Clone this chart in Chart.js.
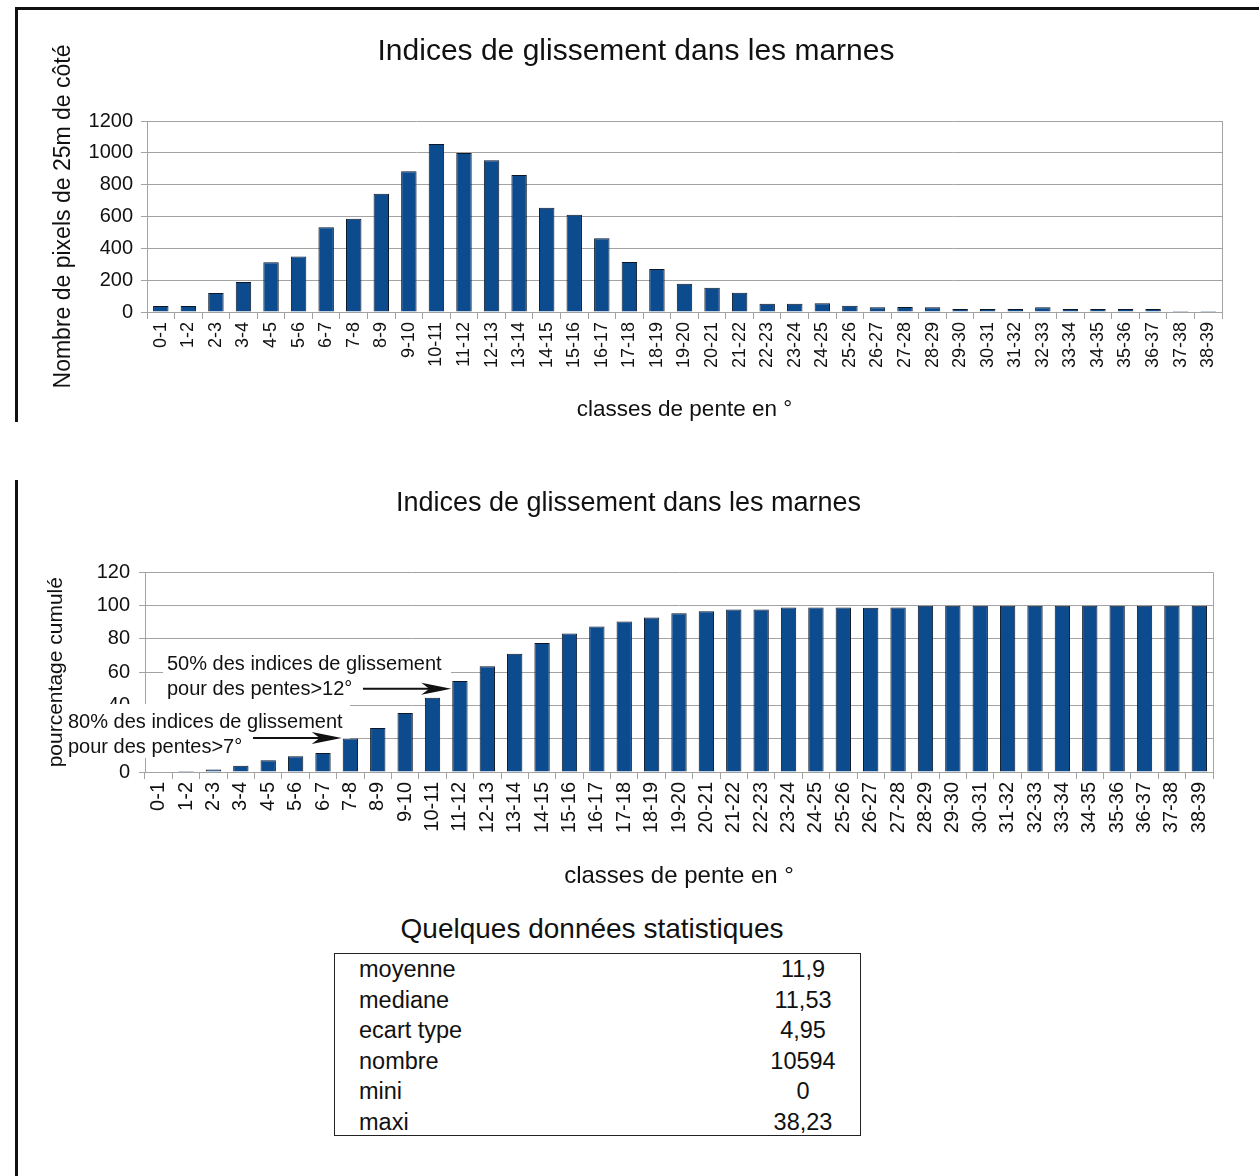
<!DOCTYPE html>
<html>
<head>
<meta charset="utf-8">
<script src="https://cdn.jsdelivr.net/npm/chart.js@4.4.0/dist/chart.umd.min.js"></script>
<style>
  body { margin: 0; background: #fff; font-family: "Liberation Sans", Arial, sans-serif; color: #111; }
  #page { position: relative; width: 1259px; height: 1176px; overflow: hidden; background: #fff; }
  .rule { position: absolute; background: #111; }
  canvas { position: absolute; left: 0; }
  #stTitle { position: absolute; left: 0; width: 1184px; top: 912px; text-align: center; font-size: 28px; line-height: 34px; }
  #stBox { position: absolute; left: 334px; top: 953px; width: 525px; height: 181px; border: 1px solid #222; }
  .row { position: relative; height: 30.6px; line-height: 30.6px; font-size: 23.5px; }
  .row .lab { position: absolute; left: 24px; }
  .row .val { position: absolute; left: 418px; width: 100px; text-align: center; }
</style>
</head>
<body>
<div id="page">
  <div class="rule" style="left:15px;top:7px;width:1244px;height:3px"></div>
  <div class="rule" style="left:15px;top:7px;width:3px;height:415px"></div>
  <div class="rule" style="left:15px;top:480px;width:3px;height:696px"></div>

  <div style="position:absolute;left:0;top:0;width:1259px;height:440px"><canvas id="countChart"></canvas></div>
  <div style="position:absolute;left:0;top:440px;width:1259px;height:460px"><canvas id="cumulChart"></canvas></div>

  <div id="stTitle">Quelques données statistiques</div>
  <div id="stBox"></div>
</div>

<script>
// slope classes (degrees)
const classes = ["0-1","1-2","2-3","3-4","4-5","5-6","6-7","7-8","8-9","9-10",
  "10-11","11-12","12-13","13-14","14-15","15-16","16-17","17-18","18-19","19-20",
  "20-21","21-22","22-23","23-24","24-25","25-26","26-27","27-28","28-29","29-30",
  "30-31","31-32","32-33","33-34","34-35","35-36","36-37","37-38","38-39"];

// number of 25m pixels per class
const pixelCounts = [38, 38, 119, 188, 312, 348, 532, 586, 743, 884,
  1055, 999, 953, 861, 655, 611, 463, 314, 270, 178,
  153, 121, 52, 52, 55, 40, 30, 32, 30, 19,
  19, 19, 30, 19, 19, 19, 19, 6, 6];

// cumulated percentage (lower chart)
const cumulPct = [0.3, 0.6, 1.5, 3.8, 7.0, 9.4, 11.4, 20.1, 26.4, 35.4,
  44.7, 54.7, 63.6, 71.1, 77.5, 83.3, 87.5, 90.5, 92.9, 95.5,
  96.7, 97.7, 97.7, 98.9, 98.9, 98.9, 98.8, 98.9, 99.9, 100,
  100, 100, 100, 100, 100, 100, 100, 100, 100];

const countTicks = [0, 200, 400, 600, 800, 1000, 1200];
const pctTicks = [0, 20, 40, 60, 80, 100, 120];

const statLabels = ["moyenne", "mediane", "ecart type", "nombre", "mini", "maxi"];
const statValues = ["11,9", "11,53", "4,95", "10594", "0", "38,23"];

const title = "Indices de glissement dans les marnes";
const xTitle = "classes de pente en °";

const FONT = "'Liberation Sans', Arial, sans-serif";
const GRID = "#a3a3a3";
const BAR = "#0d4b8f";
const BAR_EDGE = "#0b1626";

Chart.defaults.color = "#111";
Chart.defaults.font.family = FONT;
Chart.defaults.animation = false;

// right-hand frame of the plot area
const frame = {
  id: "frame",
  afterDraw(chart) {
    const a = chart.chartArea, ctx = chart.ctx;
    ctx.save();
    ctx.strokeStyle = GRID;
    ctx.lineWidth = 1;
    ctx.beginPath();
    ctx.moveTo(Math.round(a.right) + 0.5, a.top);
    ctx.lineTo(Math.round(a.right) + 0.5, a.bottom);
    ctx.stroke();
    ctx.restore();
  }
};

function barChart(id, data, ticks, o) {
  return new Chart(document.getElementById(id), {
    type: "bar",
    data: {
      labels: classes,
      datasets: [{
        data: data,
        backgroundColor: BAR,
        borderColor: BAR_EDGE,
        borderWidth: 1,
        barPercentage: 0.56,
        categoryPercentage: 1
      }]
    },
    options: {
      responsive: true,
      maintainAspectRatio: false,
      layout: { padding: o.padding },
      plugins: {
        legend: { display: false },
        tooltip: { enabled: false },
        title: {
          display: true, text: title, color: "#111",
          font: { size: o.titleSize, weight: "normal" },
          padding: o.titlePad
        }
      },
      scales: {
        x: {
          grid: { display: true, drawOnChartArea: false, tickLength: 7, color: GRID, offset: true },
          border: { color: GRID },
          ticks: { maxRotation: 90, minRotation: 90, autoSkip: false, padding: 3,
                   font: { size: o.xTickSize }, color: "#111" },
          title: { display: true, text: xTitle, font: { size: o.xTitleSize }, padding: { top: 0, bottom: 0 }, color: "#111" },
          afterFit(s) { s.height = o.xHeight; }
        },
        y: {
          min: ticks[0], max: ticks[ticks.length - 1],
          afterBuildTicks(s) { s.ticks = ticks.map(v => ({ value: v })); },
          grid: { color: GRID, tickLength: 6 },
          border: { color: GRID },
          ticks: { padding: o.yPad, font: { size: o.yTickSize }, color: "#111",
                   callback: v => String(v) },
          title: { display: true, text: o.yTitle, font: { size: o.yTitleSize }, padding: { top: 0, bottom: 0 }, color: "#111" },
          afterFit(s) { s.width = o.yWidth; }
        }
      }
    },
    plugins: o.plugins
  });
}

barChart("countChart", pixelCounts, countTicks, {
  padding: { left: 50, right: 37, top: 0, bottom: 17 },
  titleSize: 30, titlePad: { top: 34, bottom: 51 },
  xTickSize: 18, xTitleSize: 22.5, xHeight: 111,
  yTickSize: 20, yPad: 8, yWidth: 97, yTitleSize: 23,
  yTitle: "Nombre de pixels de 25m de côté",
  plugins: [frame]
});

// text boxes with arrows pointing at a bar
const notes = [
  { lines: ["50% des indices de glissement", "pour des pentes>12°"], bar: 11, value: 50 },
  { lines: ["80% des indices de glissement", "pour des pentes>7°"], bar: 7, value: 20.5 }
];
const noteBoxes = [
  { x: 163, y: 211, w: 288, h: 50, tx: 167, ty: 224, from: 363 },
  { x: 62, y: 264, w: 288, h: 54, tx: 68, ty: 282, from: 253 }
];

const arrows = {
  id: "arrows",
  // white boxes hide the grid but stay under the bars
  beforeDatasetsDraw(chart) {
    const ctx = chart.ctx;
    ctx.save();
    ctx.fillStyle = "#fff";
    noteBoxes.forEach(b => ctx.fillRect(b.x, b.y, b.w, b.h));
    ctx.restore();
  },
  afterDraw(chart) {
    const ctx = chart.ctx, meta = chart.getDatasetMeta(0);
    const ys = chart.scales.y;
    notes.forEach((n, i) => {
      const b = noteBoxes[i];
      ctx.save();
      ctx.fillStyle = "#111";
      ctx.font = "20px " + FONT;
      ctx.textBaseline = "middle";
      n.lines.forEach((t, k) => ctx.fillText(t, b.tx, b.ty + k * 25.5));
      const el = meta.data[n.bar];
      const tipX = el.x - el.width / 2 - 1;
      const tipY = ys.getPixelForValue(n.value);
      ctx.strokeStyle = "#111";
      ctx.lineWidth = 2;
      ctx.beginPath();
      ctx.moveTo(b.from, tipY);
      ctx.lineTo(tipX - 20, tipY);
      ctx.stroke();
      ctx.beginPath();
      ctx.moveTo(tipX, tipY);
      ctx.lineTo(tipX - 30, tipY - 6);
      ctx.lineTo(tipX - 22, tipY);
      ctx.lineTo(tipX - 30, tipY + 6);
      ctx.closePath();
      ctx.fill();
      ctx.restore();
    });
  }
};

barChart("cumulChart", cumulPct, pctTicks, {
  padding: { left: 44, right: 46, top: 0, bottom: 9 },
  titleSize: 27, titlePad: { top: 47, bottom: 53 },
  xTickSize: 20, xTitleSize: 24, xHeight: 119,
  yTickSize: 20, yPad: 9, yWidth: 101, yTitleSize: 21,
  yTitle: "pourcentage cumulé",
  plugins: [frame, arrows]
});

// statistics table
const box = document.getElementById("stBox");
statLabels.forEach((lab, i) => {
  const r = document.createElement("div");
  r.className = "row";
  r.innerHTML = '<span class="lab"></span><span class="val"></span>';
  r.children[0].textContent = lab;
  r.children[1].textContent = statValues[i];
  box.appendChild(r);
});
</script>
</body>
</html>
